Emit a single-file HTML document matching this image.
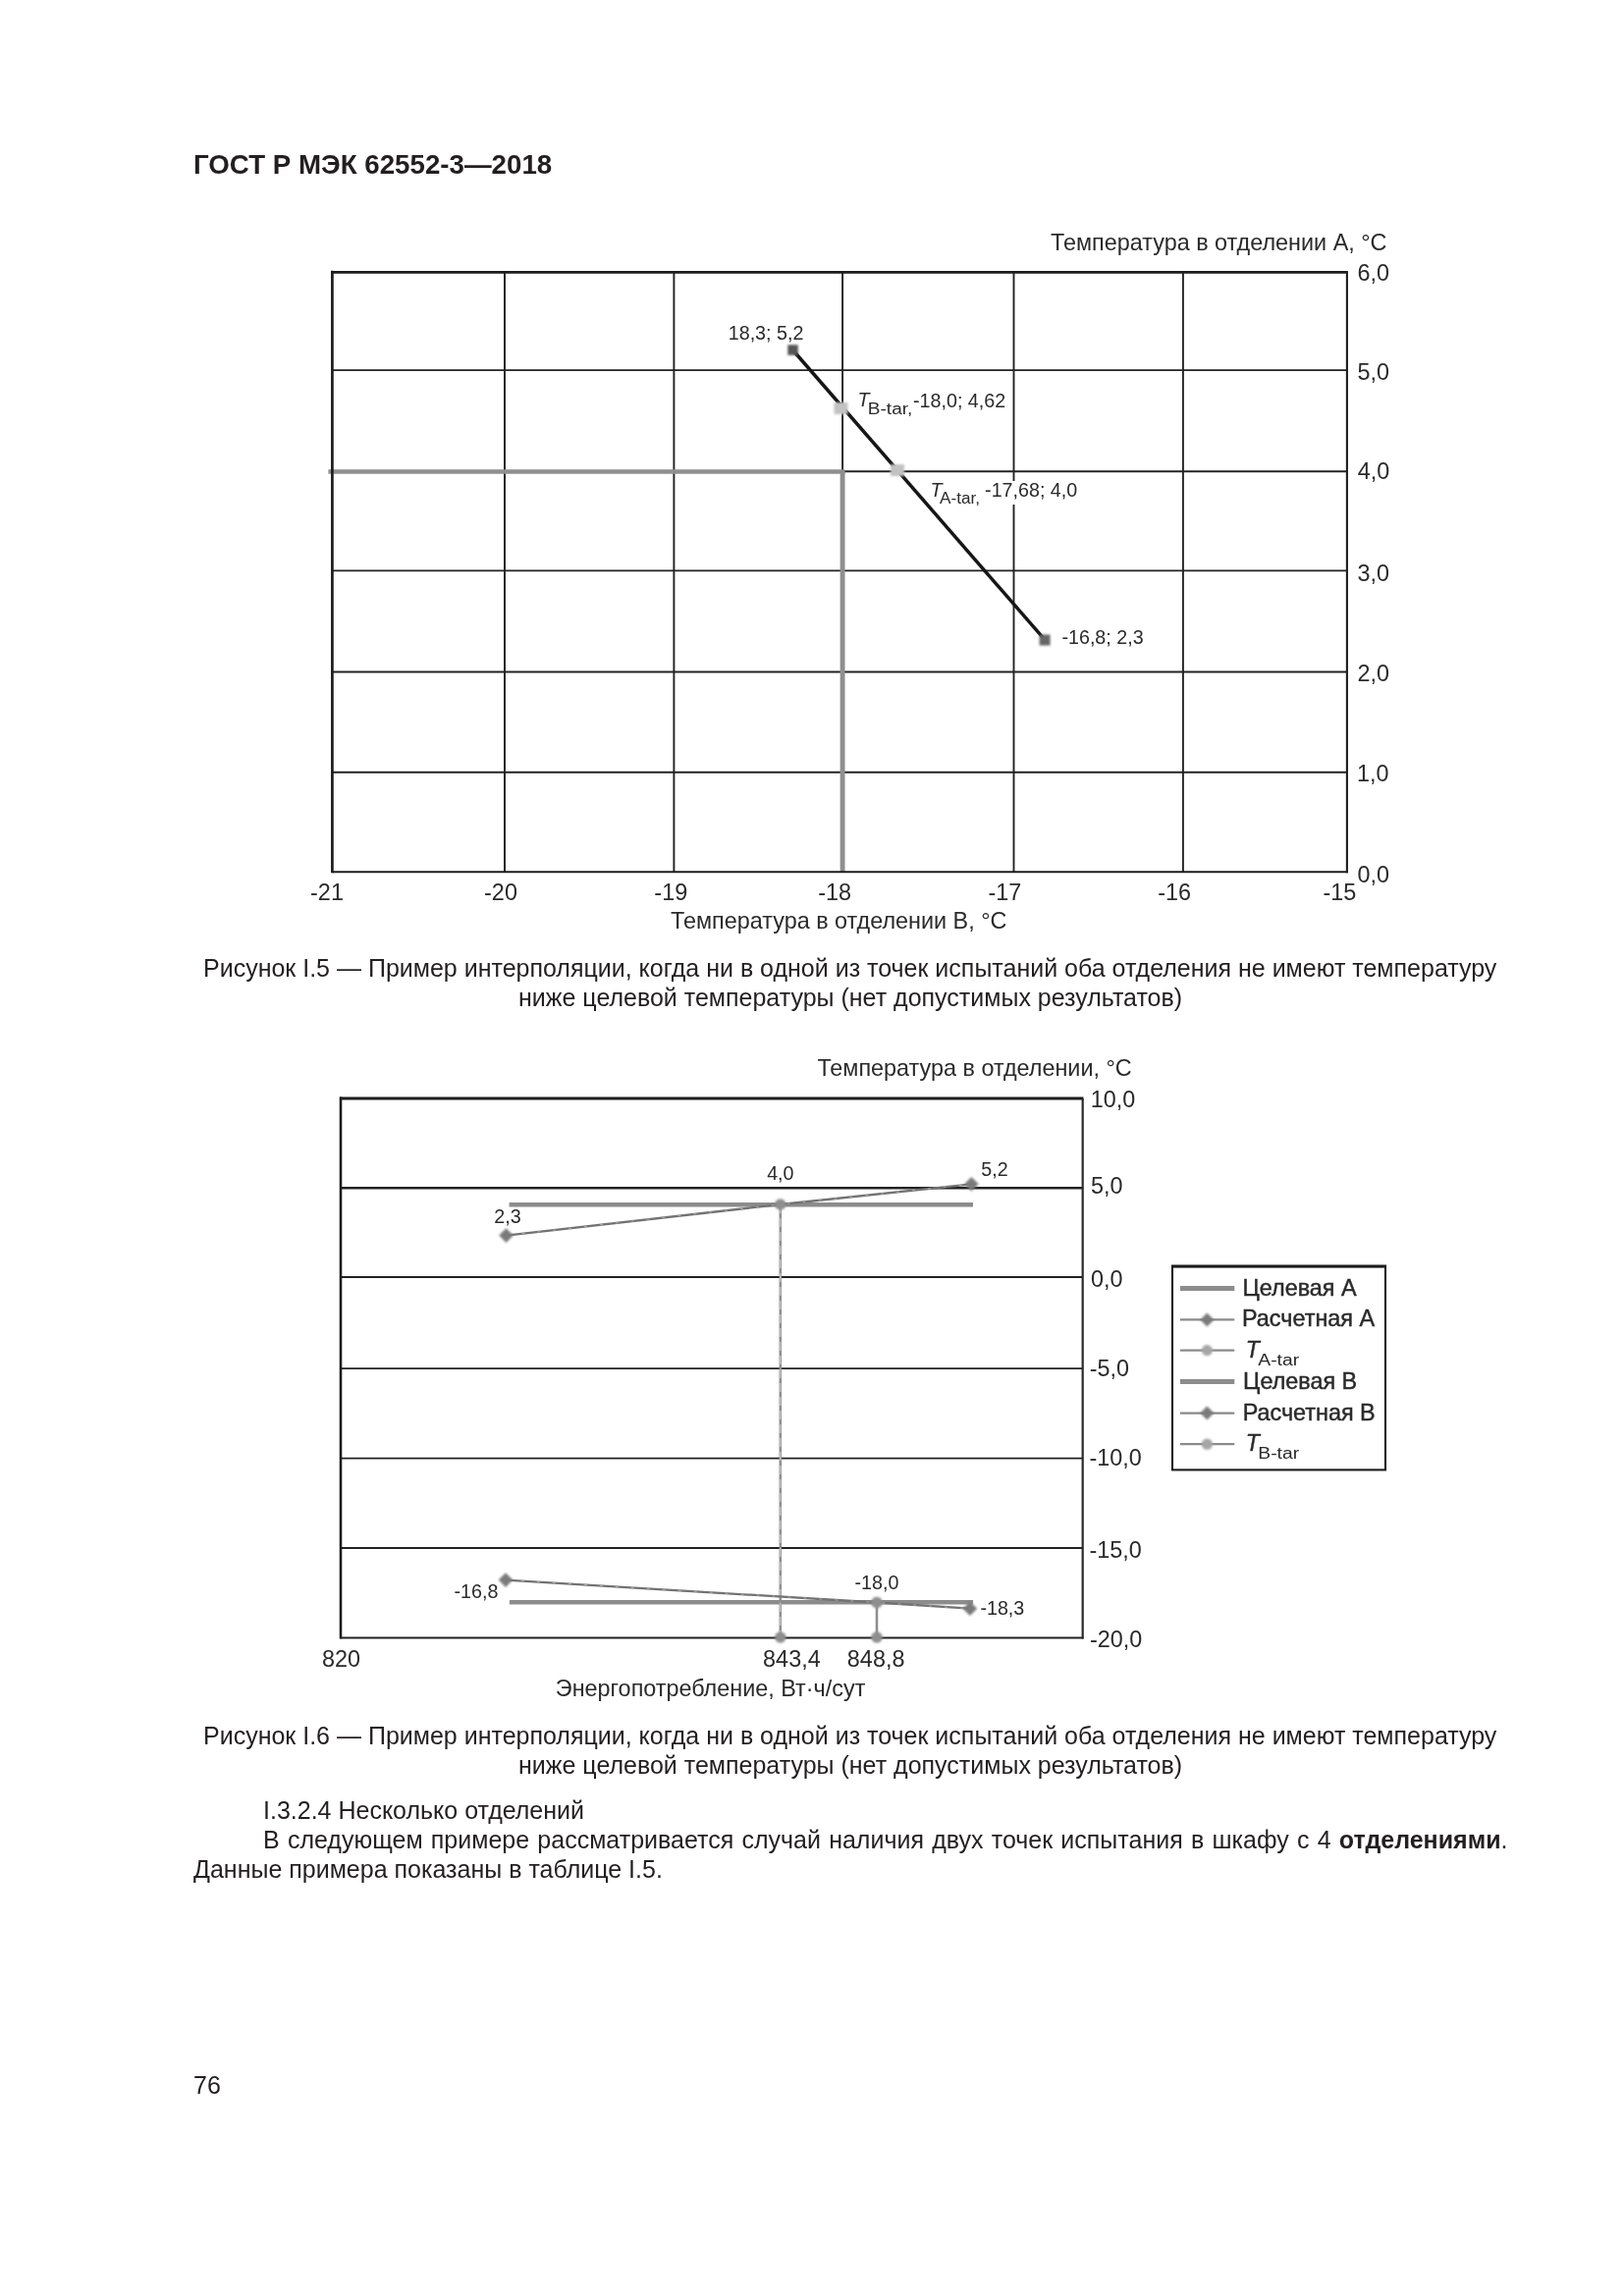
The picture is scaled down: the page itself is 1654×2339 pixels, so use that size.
<!DOCTYPE html>
<html lang="ru">
<head>
<meta charset="utf-8">
<title>ГОСТ Р МЭК 62552-3—2018</title>
<style>
html,body{margin:0;padding:0;background:#fff;}
body{width:1654px;height:2339px;position:relative;overflow:hidden;font-family:"Liberation Sans",sans-serif;color:#231f20;}
.t{position:absolute;white-space:nowrap;line-height:1;margin:0;will-change:transform;}
.hdr{left:197px;top:153.9px;font-size:27.7px;font-weight:bold;}
.cap,.body{font-size:25px;}
svg{position:absolute;left:0;top:0;}
svg text{font-family:"Liberation Sans",sans-serif;fill:#2a2a2a;}
</style>
</head>
<body>
<div class="t hdr">ГОСТ Р МЭК 62552-3—2018</div>

<svg id="charts" width="1654" height="2339" viewBox="0 0 1654 2339">
<defs>
<filter id="bl" x="-2%" y="-2%" width="104%" height="104%"><feGaussianBlur stdDeviation="0.6"/></filter>
<filter id="mb" x="-50%" y="-50%" width="200%" height="200%"><feGaussianBlur stdDeviation="1.1"/></filter>
<filter id="mc" x="-50%" y="-50%" width="200%" height="200%"><feGaussianBlur stdDeviation="0.8"/></filter>
</defs>
<g id="chart1" filter="url(#bl)">
<line x1="514" y1="277.3" x2="514" y2="888.2" stroke="#202020" stroke-width="1.9"/>
<line x1="686.4" y1="277.3" x2="686.4" y2="888.2" stroke="#202020" stroke-width="1.9"/>
<line x1="858.1" y1="277.3" x2="858.1" y2="888.2" stroke="#202020" stroke-width="1.9"/>
<line x1="1032.5" y1="277.3" x2="1032.5" y2="888.2" stroke="#202020" stroke-width="1.9"/>
<line x1="1204.9" y1="277.3" x2="1204.9" y2="888.2" stroke="#202020" stroke-width="1.9"/>
<line x1="338.4" y1="377.1" x2="1371.9" y2="377.1" stroke="#202020" stroke-width="1.9"/>
<line x1="338.4" y1="480.2" x2="1371.9" y2="480.2" stroke="#202020" stroke-width="1.9"/>
<line x1="338.4" y1="581.4" x2="1371.9" y2="581.4" stroke="#202020" stroke-width="1.9"/>
<line x1="338.4" y1="684.5" x2="1371.9" y2="684.5" stroke="#202020" stroke-width="1.9"/>
<line x1="338.4" y1="786.8" x2="1371.9" y2="786.8" stroke="#202020" stroke-width="1.9"/>
<line x1="334.4" y1="480.5" x2="860.5" y2="480.5" stroke="#8f8f8f" stroke-width="4.7"/>
<line x1="858.1" y1="480.2" x2="858.1" y2="888.2" stroke="#8f8f8f" stroke-width="4.9"/>
<line x1="338.4" y1="275.8" x2="338.4" y2="889.2" stroke="#1c1c1c" stroke-width="2.7"/>
<line x1="337.09999999999997" y1="277.3" x2="1372.9" y2="277.3" stroke="#1c1c1c" stroke-width="2.7"/>
<line x1="1371.9" y1="277.3" x2="1371.9" y2="889.2" stroke="#1e1e1e" stroke-width="2.1"/>
<line x1="338.4" y1="888.2" x2="1372.9" y2="888.2" stroke="#1e1e1e" stroke-width="2.1"/>
<rect x="944" y="490" width="158" height="24" fill="#fff"/>
<line x1="807.8" y1="357" x2="1064.2" y2="651.9" stroke="#181818" stroke-width="3.5"/>
<rect x="802.3" y="351.3" width="10.5" height="10.5" fill="#555" filter="url(#mb)"/>
<rect x="1058.6" y="646.5" width="11" height="11" fill="#666" filter="url(#mb)"/>
<rect x="849.5" y="410" width="14" height="12" fill="#c2c2c2" filter="url(#mb)"/>
<rect x="907" y="473" width="14" height="12" fill="#c2c2c2" filter="url(#mb)"/>
<text x="741.76" y="346.2" font-size="19.7">18,3; 5,2</text>
<text x="873.6" y="413.9" font-size="19.7" text-anchor="start" font-style="italic">T</text>
<text x="883.8" y="421.6" font-size="16" text-anchor="start" textLength="45.5" lengthAdjust="spacingAndGlyphs">B-tar,</text>
<text x="930.06" y="414.5" font-size="19.7">-18,0; 4,62</text>
<text x="947.4" y="505.7" font-size="19.7" text-anchor="start" font-style="italic">T</text>
<text x="957" y="513.4" font-size="16" text-anchor="start" textLength="41" lengthAdjust="spacingAndGlyphs">A-tar,</text>
<text x="1003.10" y="506.3" font-size="19.7">-17,68; 4,0</text>
<text x="1081.43" y="656.2" font-size="19.7">-16,8; 2,3</text>
<text x="1070.04" y="255.0" font-size="23.4">Температура в отделении А, °С</text>
<text x="682.99" y="946.0" font-size="23.4">Температура в отделении В, °С</text>
<text x="1382.40" y="285.6" font-size="23.4">6,0</text>
<text x="1382.52" y="386.8" font-size="23.4">5,0</text>
<text x="1382.72" y="487.8" font-size="23.4">4,0</text>
<text x="1382.55" y="591.8" font-size="23.4">3,0</text>
<text x="1382.40" y="694.1" font-size="23.4">2,0</text>
<text x="1382.10" y="795.5" font-size="23.4">1,0</text>
<text x="1382.54" y="898.9" font-size="23.4">0,0</text>
<text x="316.09" y="917.0" font-size="23.4">-21</text>
<text x="493.08" y="917.0" font-size="23.4">-20</text>
<text x="666.37" y="917.0" font-size="23.4">-19</text>
<text x="833.18" y="917.0" font-size="23.4">-18</text>
<text x="1006.56" y="917.0" font-size="23.4">-17</text>
<text x="1179.13" y="917.0" font-size="23.4">-16</text>
<text x="1347.56" y="917.0" font-size="23.4">-15</text>
</g>
<g id="chart2" filter="url(#bl)">
<line x1="347" y1="1210.2" x2="1102.4" y2="1210.2" stroke="#202020" stroke-width="2.6"/>
<line x1="347" y1="1301" x2="1102.4" y2="1301" stroke="#202020" stroke-width="1.9"/>
<line x1="347" y1="1394.1" x2="1102.4" y2="1394.1" stroke="#202020" stroke-width="1.9"/>
<line x1="347" y1="1485.6" x2="1102.4" y2="1485.6" stroke="#202020" stroke-width="1.9"/>
<line x1="347" y1="1577" x2="1102.4" y2="1577" stroke="#202020" stroke-width="1.9"/>
<line x1="347" y1="1117.5" x2="347" y2="1669.5" stroke="#1c1c1c" stroke-width="2.6"/>
<line x1="346" y1="1119" x2="1103.4" y2="1119" stroke="#1c1c1c" stroke-width="3"/>
<line x1="1102.7" y1="1119" x2="1102.7" y2="1669.5" stroke="#2a2a2a" stroke-width="2.2"/>
<line x1="347" y1="1668.5" x2="1103.4" y2="1668.5" stroke="#202020" stroke-width="1.9"/>
<line x1="518.6" y1="1227.2" x2="991" y2="1227.2" stroke="#8c8c8c" stroke-width="4.6"/>
<line x1="518.9" y1="1632.2" x2="991" y2="1632.2" stroke="#8c8c8c" stroke-width="4.6"/>
<line x1="794.8" y1="1227" x2="794.8" y2="1668.5" stroke="#8f8f8f" stroke-width="2.6"/>
<line x1="794.8" y1="1227" x2="794.8" y2="1668.5" stroke="#d8d8d8" stroke-width="1" stroke-dasharray="9 5"/>
<line x1="893" y1="1632" x2="893" y2="1668.5" stroke="#8f8f8f" stroke-width="2.6"/>
<polyline points="515.5,1258.6 794.8,1227 989.4,1206.3" fill="none" stroke="#727272" stroke-width="2.3"/>
<polyline points="515.5,1258.6 794.8,1227 989.4,1206.3" fill="none" stroke="#c4c4c4" stroke-width="0.7" stroke-dasharray="3 13"/>
<polyline points="515,1609.6 893,1632.5 987.9,1638.7" fill="none" stroke="#727272" stroke-width="2.3"/>
<polyline points="515,1609.6 893,1632.5 987.9,1638.7" fill="none" stroke="#c4c4c4" stroke-width="0.7" stroke-dasharray="3 13"/>
<path d="M508.2,1258.6 L515.5,1251.3 L522.8,1258.6 L515.5,1265.8999999999999 Z" fill="#7a7a7a" filter="url(#mc)"/>
<path d="M982.1,1206.3 L989.4,1199.0 L996.6999999999999,1206.3 L989.4,1213.6 Z" fill="#7a7a7a" filter="url(#mc)"/>
<path d="M507.7,1609.6 L515,1602.3 L522.3,1609.6 L515,1616.8999999999999 Z" fill="#7a7a7a" filter="url(#mc)"/>
<path d="M980.6,1638.7 L987.9,1631.4 L995.1999999999999,1638.7 L987.9,1646.0 Z" fill="#7a7a7a" filter="url(#mc)"/>
<circle cx="794.8" cy="1227" r="5.8" fill="#8e8e8e" filter="url(#mc)"/>
<circle cx="794.8" cy="1668.0" r="5.8" fill="#8e8e8e" filter="url(#mc)"/>
<circle cx="893" cy="1632.5" r="5.8" fill="#8e8e8e" filter="url(#mc)"/>
<circle cx="893" cy="1668.0" r="5.8" fill="#8e8e8e" filter="url(#mc)"/>
<text x="503.29" y="1246.2" font-size="19.7">2,3</text>
<text x="781.17" y="1202.3" font-size="19.7">4,0</text>
<text x="999.36" y="1197.7" font-size="19.7">5,2</text>
<text x="462.54" y="1628.3" font-size="19.7">-16,8</text>
<text x="870.55" y="1618.8" font-size="19.7">-18,0</text>
<text x="998.39" y="1644.8" font-size="19.7">-18,3</text>
<text x="832.39" y="1096.3" font-size="23.4">Температура в отделении, °С</text>
<text x="565.87" y="1727.5" font-size="23.4">Энергопотребление, Вт·ч/сут</text>
<text x="1110.69" y="1127.8000000000002" font-size="23.4">10,0</text>
<text x="1111.02" y="1216.4" font-size="23.4">5,0</text>
<text x="1110.94" y="1310.8000000000002" font-size="23.4">0,0</text>
<text x="1109.78" y="1402.4" font-size="23.4">-5,0</text>
<text x="1109.52" y="1493.1000000000001" font-size="23.4">-10,0</text>
<text x="1109.52" y="1586.6000000000001" font-size="23.4">-15,0</text>
<text x="1109.92" y="1678.0" font-size="23.4">-20,0</text>
<text x="328.08" y="1697.7" font-size="23.4">820</text>
<text x="777.11" y="1697.7" font-size="23.4">843,4</text>
<text x="862.87" y="1697.7" font-size="23.4">848,8</text>
<rect x="1194" y="1290.2" width="217" height="207.2" fill="none" stroke="#1c1c1c" stroke-width="2.1"/>
<line x1="1193" y1="1290" x2="1412" y2="1290" stroke="#1c1c1c" stroke-width="3"/>
<line x1="1202" y1="1312.6" x2="1257.3" y2="1312.6" stroke="#8c8c8c" stroke-width="5"/>
<line x1="1202" y1="1407.4" x2="1257.3" y2="1407.4" stroke="#8c8c8c" stroke-width="5"/>
<line x1="1202" y1="1344.4" x2="1257.3" y2="1344.4" stroke="#8a8a8a" stroke-width="2.2"/>
<path d="M1222.4,1344.4 L1229.4,1337.4 L1236.4,1344.4 L1229.4,1351.4 Z" fill="#7a7a7a" filter="url(#mc)"/>
<line x1="1202" y1="1375.6" x2="1257.3" y2="1375.6" stroke="#8a8a8a" stroke-width="2.2"/>
<circle cx="1229.4" cy="1375.6" r="5.6" fill="#a6a6a6" filter="url(#mc)"/>
<line x1="1202" y1="1439.6" x2="1257.3" y2="1439.6" stroke="#8a8a8a" stroke-width="2.2"/>
<path d="M1222.4,1439.6 L1229.4,1432.6 L1236.4,1439.6 L1229.4,1446.6 Z" fill="#7a7a7a" filter="url(#mc)"/>
<line x1="1202" y1="1471.2" x2="1257.3" y2="1471.2" stroke="#8a8a8a" stroke-width="2.2"/>
<circle cx="1229.4" cy="1471.2" r="5.6" fill="#a6a6a6" filter="url(#mc)"/>
<text x="1265.50" y="1319.8" font-size="23.4" stroke="#2a2a2a" stroke-width="0.45">Целевая А</text>
<text x="1265.03" y="1351.2" font-size="23.4" stroke="#2a2a2a" stroke-width="0.45">Расчетная А</text>
<text x="1268.7" y="1383.1" font-size="23" text-anchor="start" font-style="italic" stroke="#2a2a2a" stroke-width="0.45">T</text>
<text x="1281.3" y="1391.2" font-size="16" text-anchor="start" textLength="41.8" lengthAdjust="spacingAndGlyphs">A-tar</text>
<text x="1266.10" y="1414.6" font-size="23.4" stroke="#2a2a2a" stroke-width="0.45">Целевая В</text>
<text x="1265.63" y="1446.8" font-size="23.4" stroke="#2a2a2a" stroke-width="0.45">Расчетная В</text>
<text x="1268.7" y="1478.3" font-size="23" text-anchor="start" font-style="italic" stroke="#2a2a2a" stroke-width="0.45">T</text>
<text x="1281.3" y="1486.4" font-size="16" text-anchor="start" textLength="41.8" lengthAdjust="spacingAndGlyphs">B-tar</text>
</g>
</svg>

<div class="t cap" id="c1a" style="left:207.1px;top:973.5px;">Рисунок I.5 — Пример интерполяции, когда ни в одной из точек испытаний оба отделения не имеют температуру</div>
<div class="t cap" id="c1b" style="left:528px;top:1004px;">ниже целевой температуры (нет допустимых результатов)</div>

<div class="t cap" id="c2a" style="left:206.7px;top:1755.6px;">Рисунок I.6 — Пример интерполяции, когда ни в одной из точек испытаний оба отделения не имеют температуру</div>
<div class="t cap" id="c2b" style="left:528px;top:1786px;">ниже целевой температуры (нет допустимых результатов)</div>

<div class="t body" id="b1" style="left:268px;top:1831.9px;">I.3.2.4 Несколько отделений</div>
<div class="t body" id="b2" style="left:267.6px;top:1862.4px;width:1267.5px;text-align:justify;text-align-last:justify;white-space:normal;">В следующем примере рассматривается случай наличия двух точек испытания в шкафу с 4 <b>отделениями</b>.</div>
<div class="t body" id="b3" style="left:197.4px;top:1891.9px;">Данные примера показаны в таблице I.5.</div>

<div class="t" id="pg" style="left:196.6px;top:2112px;font-size:25px;">76</div>
</body>
</html>
